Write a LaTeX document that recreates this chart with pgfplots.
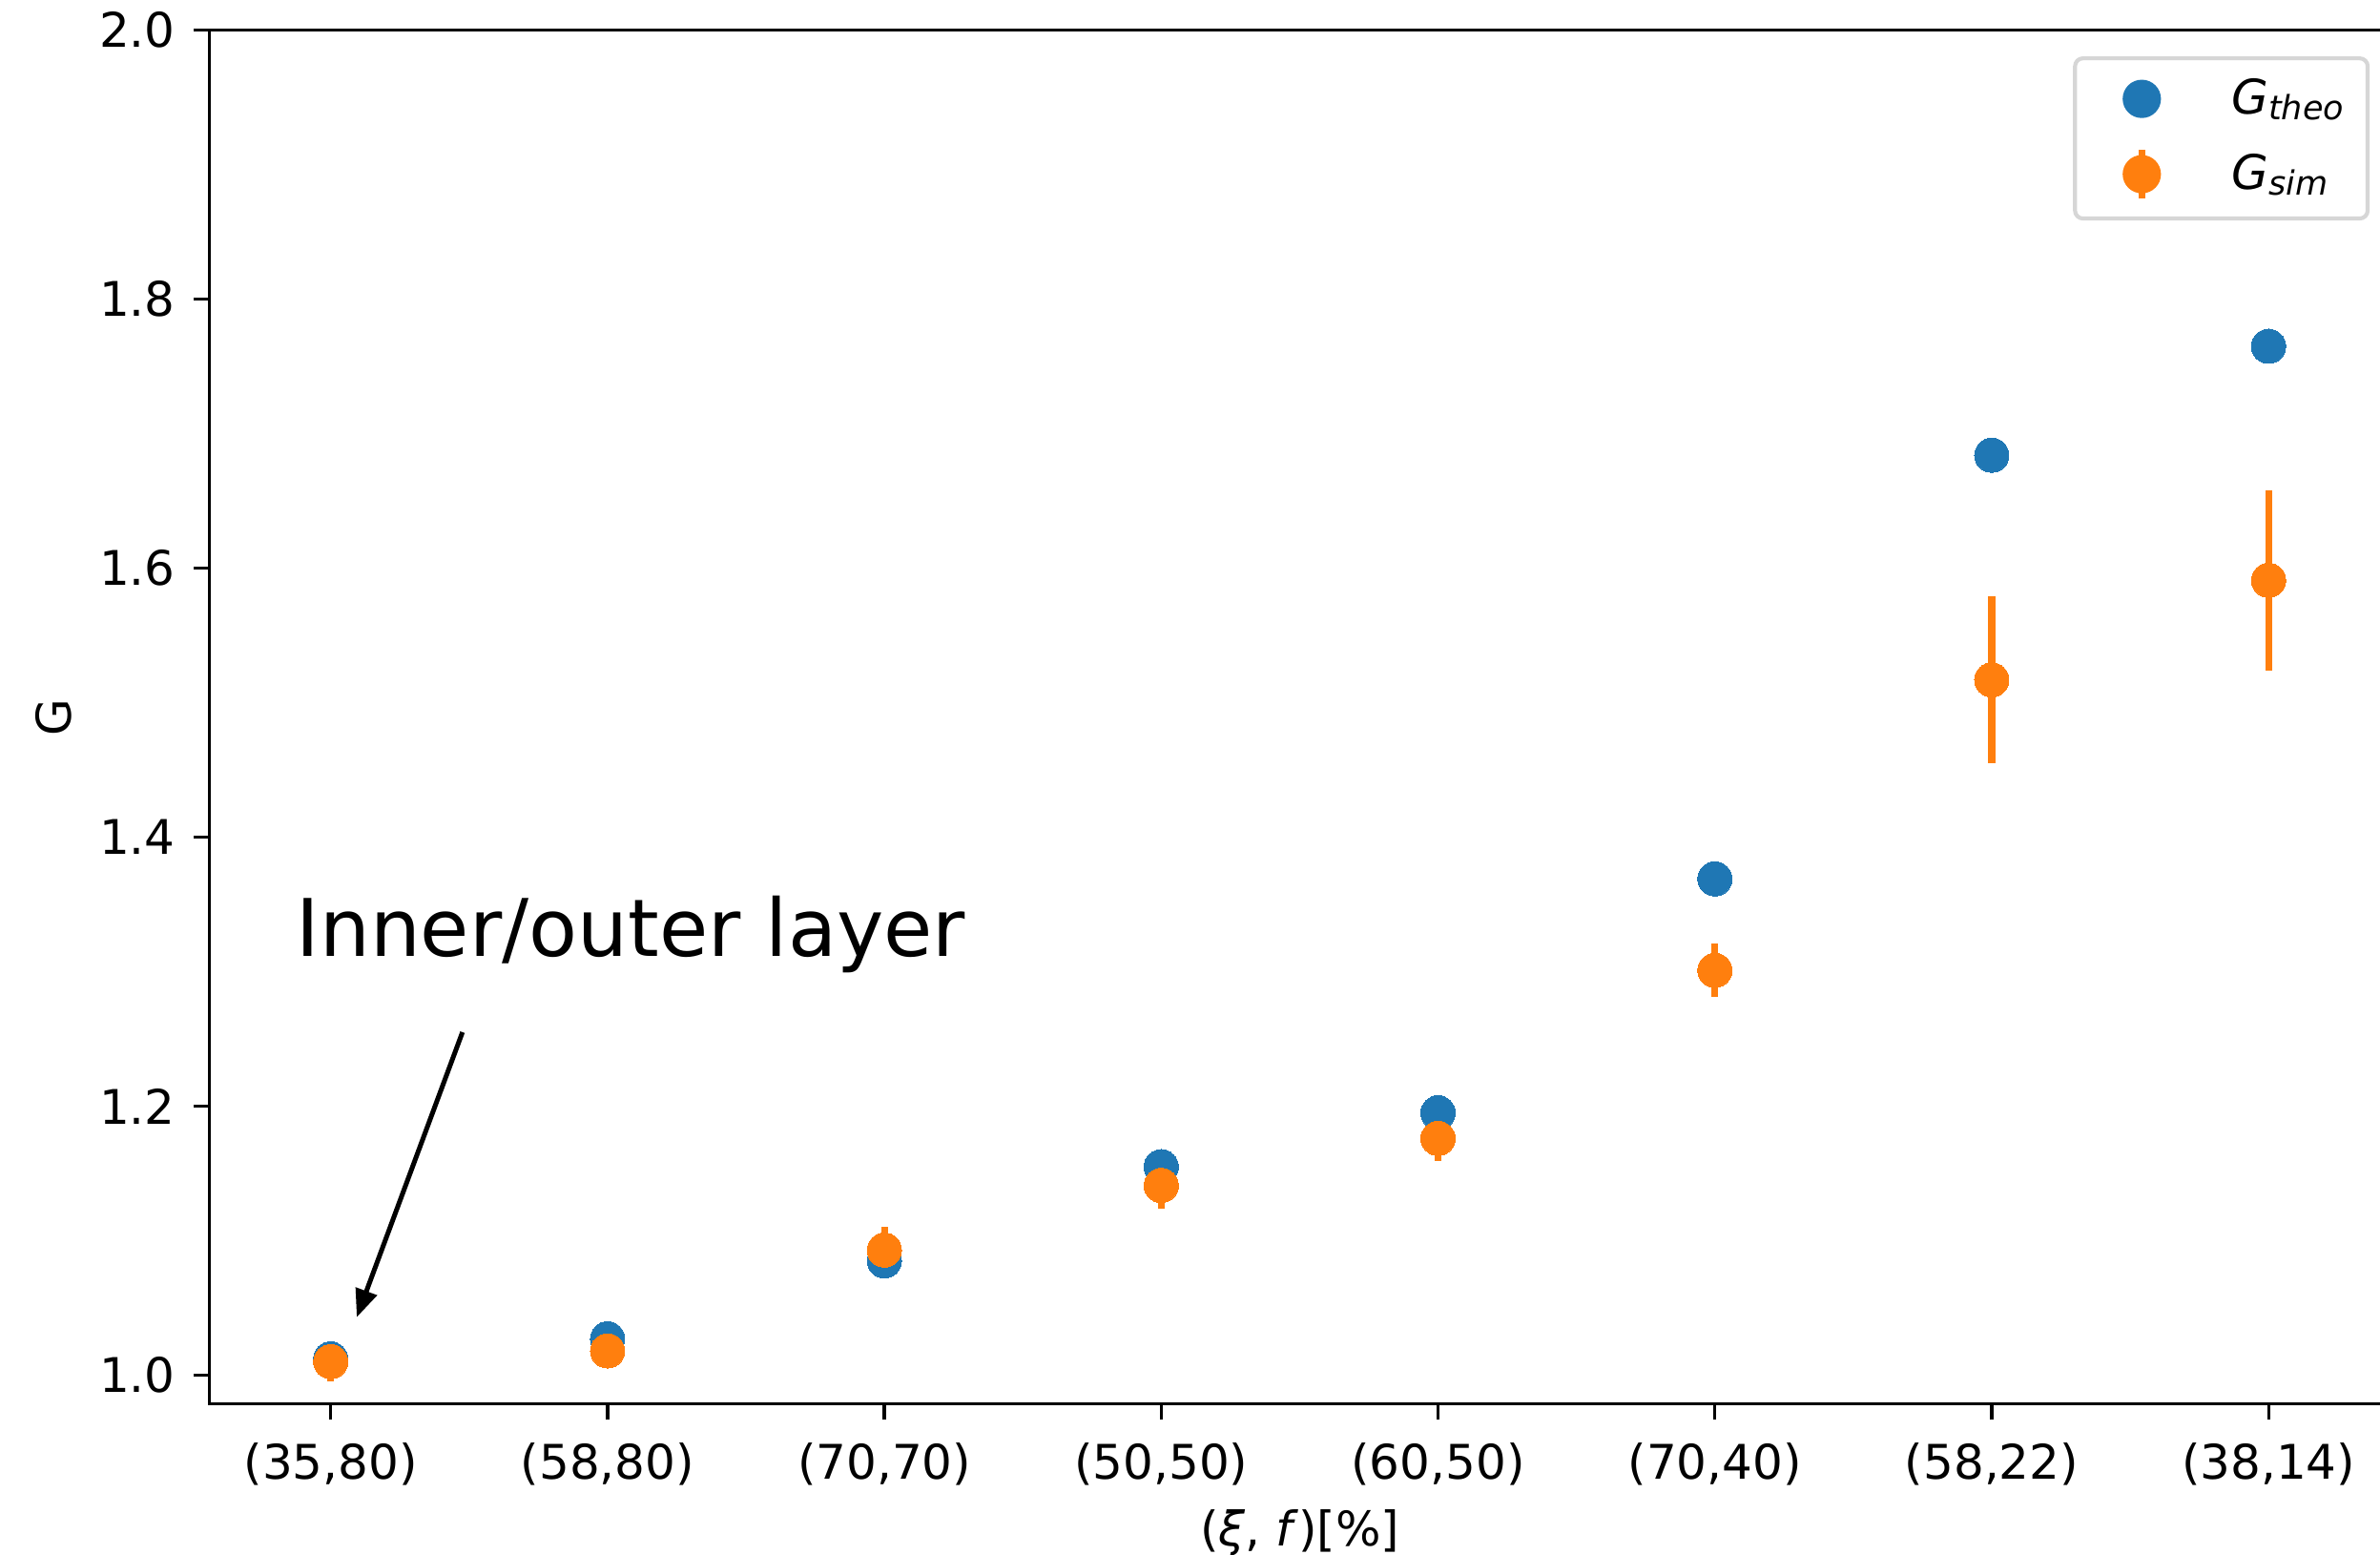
\documentclass[border=0pt]{standalone}
\usepackage{fontspec}
\setmainfont{DejaVu Sans}
\usepackage{pgfplots}
\pgfplotsset{compat=1.18}
\usetikzlibrary{arrows.meta}
\definecolor{tabblue}{RGB}{31,119,180}
\definecolor{taborange}{RGB}{255,127,14}
\definecolor{legedge}{RGB}{214,214,214}
\begin{document}
\begin{tikzpicture}
\useasboundingbox (0,0) rectangle (598.8pt,390.96pt);
\clip (0,0) rectangle (598.8pt,390.96pt);
\begin{axis}[
  at={(52.7pt,37.75pt)}, anchor=south west,
  scale only axis, width=548.7pt, height=345.6pt,
  xmin=-0.438, xmax=7.44, ymin=0.9785, ymax=2.0,
  clip=false,
  axis line style={line width=0.8pt},
  tick style={line width=0.8pt, black},
  major tick length=4pt, tick align=outside, tick pos=left,
  xtick={0,...,7},
  xticklabels={{(35,80)},{(58,80)},{(70,70)},{(50,50)},{(60,50)},{(70,40)},{(58,22)},{(38,14)}},
  ytick={1.0,1.2,1.4,1.6,1.8,2.0},
  /pgf/number format/assume math mode=true,
  ticklabel style={font=\fontsize{12}{14}\selectfont},
  xticklabel style={yshift=-2.3pt},
  yticklabel style={xshift=-1.1pt, /pgf/number format/.cd, fixed, fixed zerofill, precision=1},
  xlabel={(\textit{ξ}, \textit{f})[\%]},
  ylabel={G},
  label style={font=\fontsize{12}{14}\selectfont},
  xlabel style={at={(axis description cs:0.5,0)}, anchor=center, yshift=-32.5pt},
  ylabel style={at={(axis description cs:-0.0716,0.5)}, anchor=center},
  legend style={at={(rel axis cs:0.9905,0.981)}, anchor=north east,
    draw=legedge, line width=1pt, rounded corners=2pt,
    inner xsep=6pt, inner ysep=4.2pt,
    font=\fontsize{12}{14}\selectfont,
    nodes={inner sep=0pt},
    column sep=11.8pt, row sep=6.0pt},
  legend cell align=left,
]
\addplot[color=tabblue, only marks, mark=*, mark size=4.32pt, mark options={draw=tabblue, fill=tabblue, line width=0pt},
  legend image code/.code={\path[draw=none, fill=none] (0,-6pt) rectangle (21.6pt,6pt); \fill[tabblue] (10.8pt,0) circle[radius=4.32pt];}]
  coordinates {(0,1.012) (1,1.027) (2,1.085) (3,1.155) (4,1.195) (5,1.369) (6,1.684) (7,1.765)};
\addlegendentry{\textit{G}\raisebox{-1.5pt}{\fontsize{8.4}{10}\selectfont\itshape theo}}
\addplot[color=taborange, only marks, mark=*, mark size=4.32pt, mark options={draw=taborange, fill=taborange, line width=0pt},
  error bars/.cd, y dir=both, y explicit, error mark=none,
  error bar style={line width=1.7pt, color=taborange},
  /pgfplots/legend image code/.code={\path[draw=none, fill=none] (0,-6pt) rectangle (21.6pt,6pt); \draw[taborange, line width=1.7pt] (10.8pt,-6.1pt) -- (10.8pt,6.1pt); \fill[taborange] (10.8pt,0) circle[radius=4.32pt];}]
  coordinates {(0,1.010) +- (0,0.015) (1,1.018) +- (0,0.010) (2,1.093) +- (0,0.017) (3,1.141) +- (0,0.017) (4,1.176) +- (0,0.017) (5,1.301) +- (0,0.020) (6,1.517) +- (0,0.062) (7,1.591) +- (0,0.067)};
\addlegendentry{\textit{G}\raisebox{-1.5pt}{\fontsize{8.4}{10}\selectfont\itshape sim}}
\node[anchor=base west, inner sep=0pt, font=\fontsize{20}{24}\selectfont] at (axis cs:-0.127,1.311) {Inner/outer layer};
\draw[-{Triangle[length=7pt,width=5.5pt]}, line width=1.2pt] (axis cs:0.476,1.255) -- (axis cs:0.094,1.043);
\end{axis}
\end{tikzpicture}
\end{document}
